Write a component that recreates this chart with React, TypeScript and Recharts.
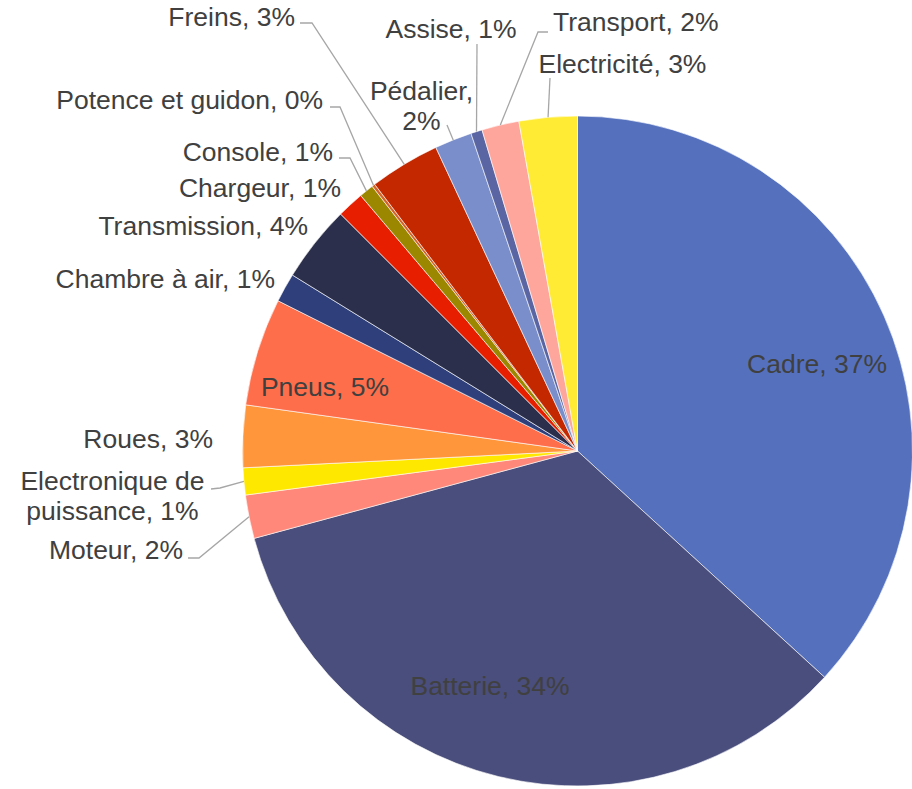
import React from 'react';
import { PieChart, Pie, Cell } from 'recharts';

const categories = [
  'Cadre',
  'Batterie',
  'Moteur',
  'Electronique de puissance',
  'Roues',
  'Pneus',
  'Chambre à air',
  'Transmission',
  'Chargeur',
  'Console',
  'Potence et guidon',
  'Freins',
  'Pédalier',
  'Assise',
  'Transport',
  'Electricité',
];

const shares = [36.8, 34.0, 2.1, 1.3, 3.0, 5.2, 1.4, 3.7, 1.3, 0.7, 0.15, 3.4, 1.8, 0.55, 1.8, 2.8];

const colors = [
  '#5571BE',
  '#4A4E7C',
  '#FF887A',
  '#FFE800',
  '#FF963C',
  '#FF6E4A',
  '#2E3F7B',
  '#2B2F4B',
  '#E81E00',
  '#9B8700',
  '#D4632A',
  '#C42800',
  '#7A8ECB',
  '#5A66A3',
  '#FFA69C',
  '#FFEB33',
];

const data = categories.map((name, i) => ({ name, value: shares[i] }));
const total = shares.reduce((a, b) => a + b, 0);

type Layout = {
  dx: number;
  dy: number;
  anchor: 'start' | 'middle' | 'end';
  firstLineWords?: number;
  leader?: [number, number][];
};

// label placement, as offsets from the pie centre
const labelLayout: Layout[] = [
  { dx: 239.5, dy: -78, anchor: 'middle' },
  { dx: -87.5, dy: 244, anchor: 'middle' },
  { dx: -394.5, dy: 108, anchor: 'end', leader: [[-378.5, 107], [-389.5, 107]] },
  { dx: -465, dy: 39, anchor: 'middle', firstLineWords: 2, leader: [[-357.5, 37], [-366.5, 38]] },
  { dx: -364.5, dy: -3, anchor: 'end' },
  { dx: -252.5, dy: -55, anchor: 'middle' },
  { dx: -302.5, dy: -163, anchor: 'end' },
  { dx: -269.5, dy: -216, anchor: 'end' },
  { dx: -236.5, dy: -254, anchor: 'end' },
  { dx: -244.5, dy: -290, anchor: 'end', leader: [[-227.5, -293], [-238.5, -293]] },
  { dx: -254.5, dy: -342, anchor: 'end', leader: [[-237.5, -344], [-247.5, -344]] },
  { dx: -282.5, dy: -425, anchor: 'end', leader: [[-265.5, -428], [-277.5, -428]] },
  { dx: -156, dy: -351, anchor: 'middle', firstLineWords: 1, leader: [[-130.5, -326]] },
  { dx: -126.5, dy: -413, anchor: 'middle', leader: [[-100.5, -407]] },
  { dx: -24.5, dy: -420, anchor: 'start', leader: [[-39.5, -419], [-29.5, -419]] },
  { dx: 45, dy: -378, anchor: 'middle', leader: [[-27.5, -373]] },
];

const RAD = Math.PI / 180;
const FONT = '"Liberation Sans", Arial, Helvetica, sans-serif';

const renderLabel = (props: any) => {
  const { cx, cy, midAngle, outerRadius, index } = props;
  const lay = labelLayout[index];
  if (!lay) return null;
  const pct = Math.round((shares[index] / total) * 100);
  const full = `${categories[index]}, ${pct}%`;
  let lines = [full];
  if (lay.firstLineWords) {
    const words = full.split(' ');
    lines = [words.slice(0, lay.firstLineWords).join(' '), words.slice(lay.firstLineWords).join(' ')];
  }
  const x = cx + lay.dx;
  const y = cy + lay.dy;
  let leaderEl = null;
  if (lay.leader) {
    const sx = cx + outerRadius * Math.cos(-midAngle * RAD);
    const sy = cy + outerRadius * Math.sin(-midAngle * RAD);
    const pts = [[sx, sy], ...lay.leader.map(([a, b]) => [cx + a, cy + b])];
    leaderEl = (
      <polyline
        points={pts.map((p) => `${p[0]},${p[1]}`).join(' ')}
        fill="none"
        stroke="#A6A6A6"
        strokeWidth={1.3}
      />
    );
  }
  return (
    <g key={`lbl-${index}`}>
      {leaderEl}
      <text
        x={x}
        y={y}
        textAnchor={lay.anchor}
        fill="#404040"
        fontFamily={FONT}
        fontSize={26.5}
      >
        {lines.map((l, i) => (
          <tspan key={i} x={x} dy={i === 0 ? 0 : 30}>
            {l}
          </tspan>
        ))}
      </text>
    </g>
  );
};

export default function App() {
  return (
    <div style={{ position: 'absolute', left: 0, top: 0, width: 912, height: 789, background: '#fff' }}>
      <PieChart width={912} height={789} margin={{ top: 0, right: 0, bottom: 0, left: 0 }}>
        <Pie
          data={data}
          dataKey="value"
          nameKey="name"
          cx={577.5}
          cy={451}
          outerRadius={335}
          startAngle={90}
          endAngle={-270}
          stroke="#ffffff"
          strokeWidth={0.6}
          label={renderLabel}
          labelLine={false}
          isAnimationActive={false}
        >
          {data.map((d, i) => (
            <Cell key={d.name} fill={colors[i]} />
          ))}
        </Pie>
      </PieChart>
    </div>
  );
}
